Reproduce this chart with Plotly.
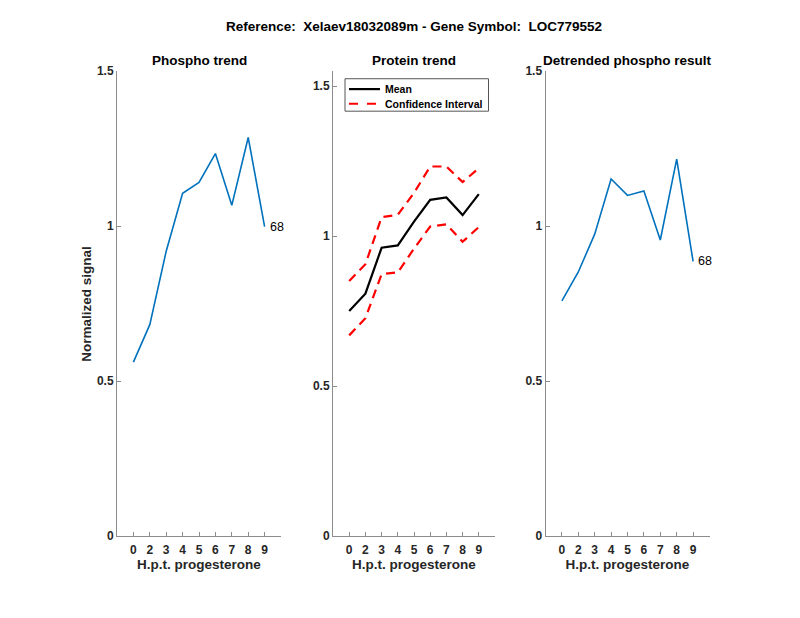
import plotly.graph_objects as go

# ---- data ----
time_pos = [1, 2, 3, 4, 5, 6, 7, 8, 9]
tick_labels = ["0", "2", "3", "4", "5", "6", "7", "8", "9"]

phospho = [0.561, 0.682, 0.919, 1.106, 1.141, 1.234, 1.067, 1.286, 0.998]
protein_mean = [0.750, 0.808, 0.961, 0.969, 1.048, 1.121, 1.129, 1.070, 1.140]
protein_upper = [0.850, 0.906, 1.063, 1.071, 1.144, 1.232, 1.232, 1.180, 1.226]
protein_lower = [0.669, 0.726, 0.873, 0.879, 0.958, 1.032, 1.039, 0.981, 1.030]
detrended = [0.759, 0.852, 0.974, 1.152, 1.099, 1.113, 0.955, 1.216, 0.886]

point_label = "68"
suptitle = "Reference:  Xelaev18032089m - Gene Symbol:  LOC779552"
panel_titles = ["Phospho trend", "Protein trend", "Detrended phospho result"]
legend_names = ["Mean", "Confidence Interval"]

W, H = 800, 618
FONT = "Liberation Sans, Arial, Helvetica, sans-serif"
BLUE = "#0072BD"
AXC = "#8c8c8c"
TXT = "#262626"
DASH = "9px,6px"


def px(x):
    return x / W


def py(y):
    return 1 - y / H


fig = go.Figure()

panels = [(117, 281), (333, 495), (545.5, 709.5)]
top_px, bot_px = 65.6, 541.3
ydom = [py(bot_px), py(top_px)]

fig.add_trace(go.Scatter(x=time_pos, y=phospho, mode="lines",
                         line=dict(color=BLUE, width=1.6),
                         showlegend=False, xaxis="x", yaxis="y"))
fig.add_trace(go.Scatter(x=time_pos, y=protein_mean, mode="lines", name=legend_names[0],
                         line=dict(color="black", width=2.2), showlegend=False,
                         xaxis="x2", yaxis="y2"))
fig.add_trace(go.Scatter(x=time_pos, y=protein_upper, mode="lines",
                         name=legend_names[1], showlegend=False,
                         line=dict(color="#ff0000", width=2.2, dash=DASH),
                         xaxis="x2", yaxis="y2"))
fig.add_trace(go.Scatter(x=time_pos, y=protein_lower, mode="lines",
                         name=legend_names[1], showlegend=False,
                         line=dict(color="#ff0000", width=2.2, dash=DASH),
                         xaxis="x2", yaxis="y2"))
fig.add_trace(go.Scatter(x=time_pos, y=detrended, mode="lines",
                         line=dict(color=BLUE, width=1.6),
                         showlegend=False, xaxis="x3", yaxis="y3"))

tickfont = dict(family=FONT, size=12, color=TXT, weight="bold")


def xax(i, anchor):
    l, r = panels[i]
    return dict(domain=[px(l), px(r)], range=[0, 10], anchor=anchor,
                tickvals=time_pos, ticktext=tick_labels, ticks="inside",
                ticklen=4, tickcolor=AXC, showline=True, linecolor=AXC,
                linewidth=1, showgrid=False, zeroline=False, tickfont=tickfont,
                ticklabelstandoff=3,
                title=dict(text="H.p.t. progesterone", standoff=3,
                           font=dict(family=FONT, size=13.5, color=TXT, weight="bold")))


def yax(rng, anchor, tv):
    return dict(domain=ydom, range=rng, anchor=anchor, tickvals=tv,
                ticktext=[("%g" % v) for v in tv], ticks="inside", ticklen=4,
                tickcolor=AXC, showline=True, linecolor=AXC, linewidth=1,
                showgrid=False, zeroline=False, tickfont=tickfont)


fig.update_layout(
    width=W, height=H, margin=dict(l=0, r=0, t=0, b=0),
    paper_bgcolor="white", plot_bgcolor="white",
    xaxis=xax(0, "y"), yaxis=yax([0, 1.5], "x", [0, 0.5, 1, 1.5]),
    xaxis2=xax(1, "y2"), yaxis2=yax([0, 1.55], "x2", [0, 0.5, 1, 1.5]),
    xaxis3=xax(2, "y3"), yaxis3=yax([0, 1.5], "x3", [0, 0.5, 1, 1.5]),
    showlegend=False,
)

ann = []
ann.append(dict(text=suptitle, x=px(414), y=py(19.5), xref="paper", yref="paper",
                showarrow=False, xanchor="center", yanchor="middle",
                font=dict(family=FONT, size=13.5, color="black", weight="bold")))
for (l, r), t in zip(panels, panel_titles):
    ann.append(dict(text=t, x=px((l + r) / 2), y=py(54.6), xref="paper", yref="paper",
                    showarrow=False, xanchor="center", yanchor="middle",
                    font=dict(family=FONT, size=13.5, color="black", weight="bold")))
ann.append(dict(text="Normalized signal", x=px(87), y=py(303.6), xref="paper",
                yref="paper", showarrow=False, textangle=-90, xanchor="center",
                yanchor="middle",
                font=dict(family=FONT, size=13.5, color=TXT, weight="bold")))
ann.append(dict(text=point_label, x=time_pos[-1] + 0.2, y=phospho[-1], xref="x", yref="y",
                showarrow=False, xanchor="left", yanchor="middle",
                font=dict(family=FONT, size=12.5, color="black")))
ann.append(dict(text=point_label, x=time_pos[-1] + 0.2, y=detrended[-1], xref="x3", yref="y3",
                showarrow=False, xanchor="left", yanchor="middle",
                font=dict(family=FONT, size=12.5, color="black")))

leg_font = dict(family=FONT, size=10.5, color="black", weight="bold")
shapes = [
    dict(type="rect", xref="paper", yref="paper", x0=px(345), x1=px(488.5),
         y0=py(106.6), y1=py(73.4), line=dict(color="#555555", width=1),
         fillcolor="white", layer="above"),
    dict(type="line", xref="paper", yref="paper", x0=px(349), x1=px(380),
         y0=py(84), y1=py(84), line=dict(color="black", width=2.2)),
    dict(type="line", xref="paper", yref="paper", x0=px(349), x1=px(376),
         y0=py(99), y1=py(99), line=dict(color="#ff0000", width=2.2, dash="9px,9px")),
]
ann.append(dict(text=legend_names[0], x=px(383), y=py(84), xref="paper", yref="paper",
                showarrow=False, xanchor="left", yanchor="middle", font=leg_font))
ann.append(dict(text=legend_names[1], x=px(383), y=py(99), xref="paper", yref="paper",
                showarrow=False, xanchor="left", yanchor="middle", font=leg_font))

fig.update_layout(annotations=ann, shapes=shapes)

fig.write_html(
    "out.html",
    config={"displayModeBar": False},
    post_script="document.body.style.margin='0';document.body.style.overflow='hidden';",
)
